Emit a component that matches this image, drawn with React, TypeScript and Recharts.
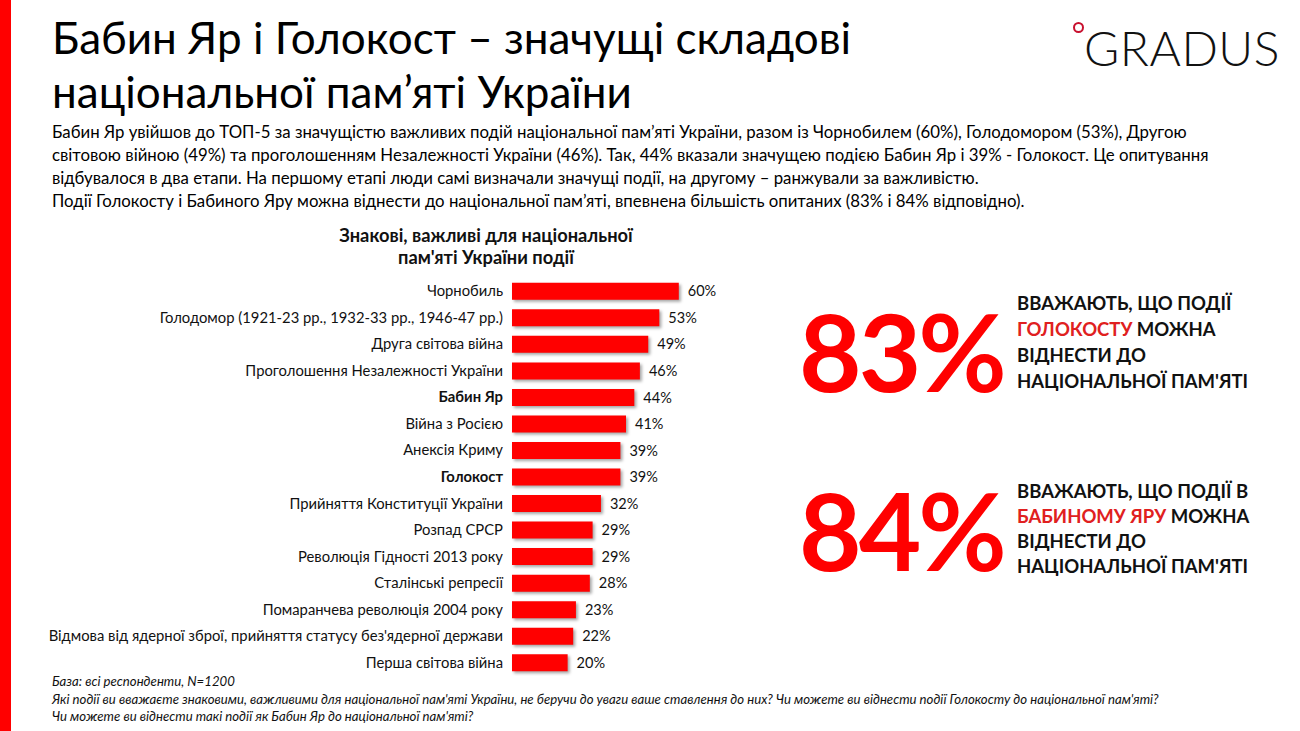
import React from "react";
import { BarChart, Bar, XAxis, YAxis, LabelList } from "recharts";

const categories = [
  "Чорнобиль",
  "Голодомор (1921-23 рр., 1932-33 рр., 1946-47 рр.)",
  "Друга світова війна",
  "Проголошення Незалежності України",
  "Бабин Яр",
  "Війна з Росією",
  "Анексія Криму",
  "Голокост",
  "Прийняття Конституції України",
  "Розпад СРСР",
  "Революція Гідності 2013 року",
  "Сталінські репресії",
  "Помаранчева революція 2004 року",
  "Відмова від ядерної зброї, прийняття статусу без'ядерної держави",
  "Перша світова війна",
];
const values = [60, 53, 49, 46, 44, 41, 39, 39, 32, 29, 29, 28, 23, 22, 20];
const boldCategories = ["Бабин Яр", "Голокост"];

const data = categories.map((name, i) => ({ name, value: values[i] }));

const FONT = "Lato, 'Open Sans', sans-serif";

const Tick = (props: any) => {
  const { x, y, payload } = props;
  const bold = boldCategories.includes(payload.value);
  return (
    <text
      x={x}
      y={y}
      dy={5}
      textAnchor="end"
      fontSize={14.8}
      fontFamily={FONT}
      fontWeight={bold ? 700 : 400}
      fill="#111"
    >
      {payload.value}
    </text>
  );
};

export default function App() {
  return (
    <div
      style={{
        position: "fixed",
        left: 0,
        top: 0,
        width: 1300,
        height: 731,
        background: "#fff",
        fontFamily: FONT,
        overflow: "hidden",
      }}
    >
      <div style={{ position: "absolute", left: 0, top: 0, width: 11, height: 731, background: "#ff0000" }} />
      <div
        style={{
          position: "absolute",
          left: 52,
          top: 10,
          fontSize: 44,
          lineHeight: "54px",
          color: "#000",
          whiteSpace: "nowrap",
        }}
      >
        Бабин Яр і Голокост – значущі складові
        <br />
        національної пам’яті України
      </div>
      <div style={{ position: "absolute", left: 1084, top: 24, fontSize: 48, fontWeight: 300, color: "#111", letterSpacing: 0.5, lineHeight: "48px" }}>
        GRADUS
      </div>
      <div style={{ position: "absolute", left: 1073, top: 22, width: 7, height: 7, borderRadius: 6, border: "2px solid #c8102e" }} />
      <div
        style={{
          position: "absolute",
          left: 52,
          top: 120,
          width: 1205,
          fontSize: 16.8,
          lineHeight: "23px",
          color: "#000",
        }}
      >
        Бабин Яр увійшов до ТОП-5 за значущістю важливих подій національної пам’яті України, разом із Чорнобилем (60%), Голодомором (53%), Другою світовою війною (49%) та проголошенням Незалежності України (46%). Так, 44% вказали значущею подією Бабин Яр і 39% - Голокост. Це опитування відбувалося в два етапи. На першому етапі люди самі визначали значущі події, на другому – ранжували за важливістю.
        <br />
        Події Голокосту і Бабиного Яру можна віднести до національної пам’яті, впевнена більшість опитаних (83% і 84% відповідно).
      </div>
      <div
        style={{
          position: "absolute",
          left: 236,
          top: 224,
          width: 500,
          textAlign: "center",
          fontSize: 18.3,
          fontWeight: 700,
          lineHeight: "22px",
          color: "#111",
        }}
      >
        Знакові, важливі для національної
        <br />
        пам'яті України події
      </div>
      <div style={{ position: "absolute", left: 0, top: 278 }}>
        <BarChart
          width={790}
          height={398}
          data={data}
          layout="vertical"
          margin={{ top: 0, right: 0, bottom: 0, left: 0 }}
          barCategoryGap="18%"
        >
          <XAxis type="number" domain={[0, 100]} hide />
          <YAxis
            type="category"
            dataKey="name"
            width={512}
            tickLine={false}
            axisLine={false}
            tickMargin={3}
            tick={<Tick />}
            interval={0}
          />
          <Bar
            dataKey="value"
            fill="#ff0000"
            isAnimationActive={false}
            style={{ filter: "drop-shadow(2px 2px 1.5px rgba(0,0,0,0.35))" }}
          >
            <LabelList
              dataKey="value"
              position="right"
              offset={9}
              formatter={(v: any) => `${v}%`}
              style={{ fontSize: 14.5, fontFamily: FONT, fill: "#111" }}
            />
          </Bar>
        </BarChart>
      </div>
      <div style={{ position: "absolute", left: 799, top: 292, fontSize: 108, fontWeight: 700, color: "#ff0000", lineHeight: "116px", letterSpacing: -3 }}>
        83%
      </div>
      <div style={{ position: "absolute", left: 1017, top: 290, fontSize: 18.5, fontWeight: 700, lineHeight: "26px", color: "#111" }}>
        ВВАЖАЮТЬ, ЩО ПОДІЇ
        <br />
        <span style={{ color: "#e02020" }}>ГОЛОКОСТУ</span> МОЖНА
        <br />
        ВІДНЕСТИ ДО
        <br />
        НАЦІОНАЛЬНОЇ ПАМ'ЯТІ
      </div>
      <div style={{ position: "absolute", left: 799, top: 471, fontSize: 108, fontWeight: 700, color: "#ff0000", lineHeight: "116px", letterSpacing: -3 }}>
        84%
      </div>
      <div style={{ position: "absolute", left: 1017, top: 479, fontSize: 18.5, fontWeight: 700, lineHeight: "25px", color: "#111" }}>
        ВВАЖАЮТЬ, ЩО ПОДІЇ В
        <br />
        <span style={{ color: "#e02020" }}>БАБИНОМУ ЯРУ</span> МОЖНА
        <br />
        ВІДНЕСТИ ДО
        <br />
        НАЦІОНАЛЬНОЇ ПАМ'ЯТІ
      </div>
      <div
        style={{
          position: "absolute",
          left: 52,
          top: 673,
          fontSize: 13.2,
          fontStyle: "italic",
          lineHeight: "17.5px",
          color: "#111",
          whiteSpace: "nowrap",
        }}
      >
        База: всі респонденти, N=1200
        <br />
        Які події ви вважаєте знаковими, важливими для національної пам'яті України, не беручи до уваги ваше ставлення до них? Чи можете ви віднести події Голокосту до національної пам'яті?
        <br />
        Чи можете ви віднести такі події як Бабин Яр до національної пам'яті?
      </div>
    </div>
  );
}
